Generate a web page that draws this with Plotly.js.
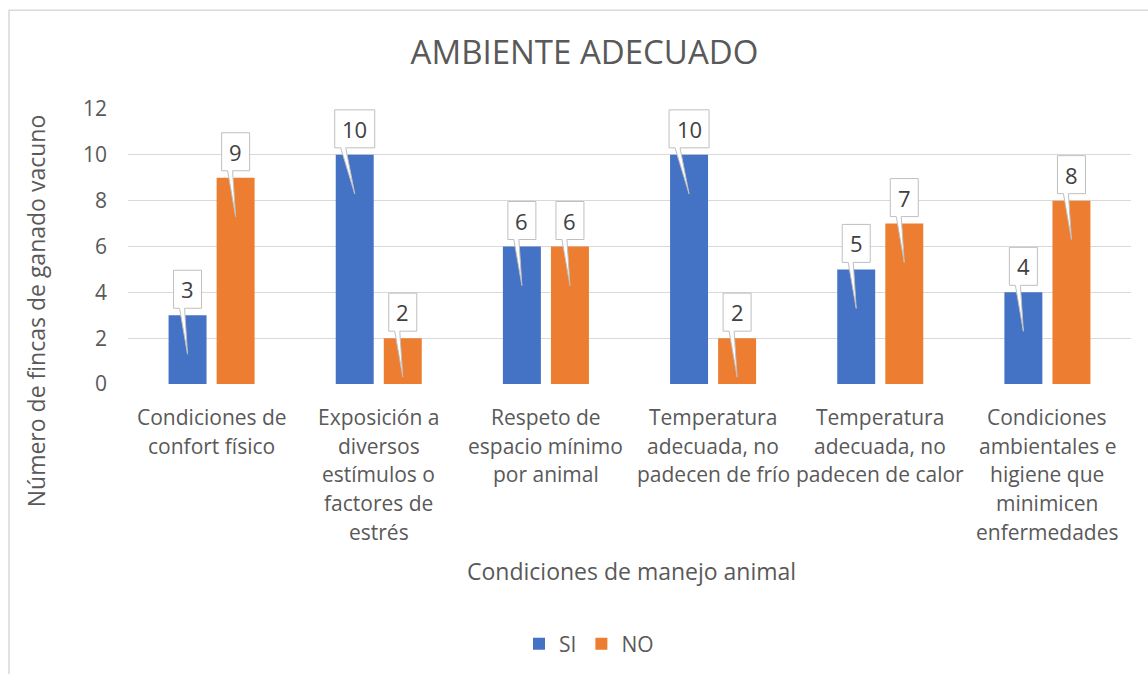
<!DOCTYPE html>
<html><head><meta charset="utf-8">
<script src="https://cdn.plot.ly/plotly-3.0.1.min.js"></script>
<style>html,body{margin:0;padding:0;background:#fff}#chart{width:1148px;height:674px}</style>
</head><body><div id="chart"></div>
<script>
const categories = ["Condiciones de<br>confort físico", "Exposición a<br>diversos<br>estímulos o<br>factores de<br>estrés", "Respeto de<br>espacio mínimo<br>por animal", "Temperatura<br>adecuada, no<br>padecen de frío", "Temperatura<br>adecuada, no<br>padecen de calor", "Condiciones<br>ambientales e<br>higiene que<br>minimicen<br>enfermedades"];
const seriesNames = ["SI", "NO"];
const siValues = [3, 10, 6, 10, 5, 4];
const noValues = [9, 2, 6, 2, 7, 8];
const yTicks = [0, 2, 4, 6, 8, 10, 12];
const chartTitle = "AMBIENTE ADECUADO";
const xTitle = "Condiciones de manejo animal";
const yTitle = "Número de fincas de ganado vacuno";

const W = 1148, H = 674;
const M = {l: 128, r: 17, t: 109, b: 289};
const PW = W - M.l - M.r, PH = H - M.t - M.b;
const px2x = p => (p - M.l) / PW;
const px2y = p => (H - M.b - p) / PH;

const FONT = "'Open Sans', 'Noto Sans', sans-serif";
const TXT = "#595959";
const colors = ["#4472C4", "#ED7D31"];
const bargap = 0.425, bargroupgap = 0.21;
const slot = (1 - bargap) / 2;

const xIdx = categories.map((c, i) => i);
const allSeries = [siValues, noValues];

const traces = allSeries.map((vals, k) => ({
  type: "bar", name: seriesNames[k], x: xIdx, y: vals,
  marker: {color: colors[k]}, hoverinfo: "skip"
}));

const shapes = [{
  type: "rect", xref: "paper", yref: "paper",
  x0: px2x(9), x1: px2x(1170), y0: px2y(700), y1: px2y(10),
  line: {color: "#d9d9d9", width: 1.5}, fillcolor: "rgba(0,0,0,0)", layer: "below"
}];
const annotations = [];

function calloutPath(v) {
  const w = 16 + 12 * String(v).length, h = 38, b = 7, tip = -39;
  const L = -w / 2, R = w / 2;
  return `M${L},${b} L${L + 6},${b} L0,${tip} L${L + 11},${b} L${R},${b} L${R},${b + h} L${L},${b + h} Z`;
}

allSeries.forEach((vals, k) => {
  vals.forEach((v, i) => {
    const cx = i + (k === 0 ? -1 : 1) * slot / 2;
    shapes.push({
      type: "path", xref: "x", yref: "y", xsizemode: "pixel", ysizemode: "pixel",
      xanchor: cx, yanchor: v, path: calloutPath(v),
      fillcolor: "#ffffff", line: {color: "#bfbfbf", width: 1}, layer: "above"
    });
    annotations.push({
      x: cx, y: v, xref: "x", yref: "y", yshift: 26, showarrow: false,
      text: String(v), font: {family: FONT, size: 22, color: "#404040"},
      xanchor: "center", yanchor: "middle"
    });
  });
});

categories.forEach((c, i) => {
  c.split("<br>").forEach((line, j) => {
    annotations.push({
      x: i, y: 0, xref: "x", yref: "y", yshift: -(33 + 28.7 * j), showarrow: false,
      text: line, font: {family: FONT, size: 21, color: TXT},
      xanchor: "center", yanchor: "middle"
    });
  });
});

annotations.push({
  xref: "paper", yref: "paper", x: px2x(631), y: px2y(573), showarrow: false,
  text: xTitle, font: {family: FONT, size: 23, color: TXT}, xanchor: "center", yanchor: "middle"
});
annotations.push({
  xref: "paper", yref: "paper", x: px2x(36), y: px2y(312), showarrow: false, textangle: -90,
  text: yTitle, font: {family: FONT, size: 23, color: TXT}, xanchor: "center", yanchor: "middle"
});

const layout = {
  width: W, height: H, margin: M,
  paper_bgcolor: "#ffffff", plot_bgcolor: "#ffffff",
  font: {family: FONT, color: TXT},
  title: {text: chartTitle, x: 584.5 / W, xref: "container", xanchor: "center",
          y: 1 - 52 / H, yref: "container", yanchor: "middle",
          font: {family: FONT, size: 33, color: TXT}},
  barmode: "group", bargap: bargap, bargroupgap: bargroupgap,
  xaxis: {range: [-0.5, 5.5], showticklabels: false, showgrid: false, zeroline: false, showline: false, fixedrange: true},
  yaxis: {range: [0, 12], tickvals: yTicks, ticktext: yTicks.map(String), showgrid: true,
          gridcolor: "#d9d9d9", gridwidth: 1.3, zeroline: false, showline: false,
          ticks: "", ticklabelstandoff: 20, tickfont: {family: FONT, size: 21, color: TXT}},
  showlegend: true,
  legend: {orientation: "h", x: px2x(589), xanchor: "center", y: px2y(644), yanchor: "middle",
           itemwidth: 30, font: {family: FONT, size: 21, color: TXT}, bgcolor: "rgba(0,0,0,0)"},
  shapes: shapes, annotations: annotations
};

Plotly.newPlot("chart", traces, layout, {displayModeBar: false, staticPlot: true});
</script></body></html>
